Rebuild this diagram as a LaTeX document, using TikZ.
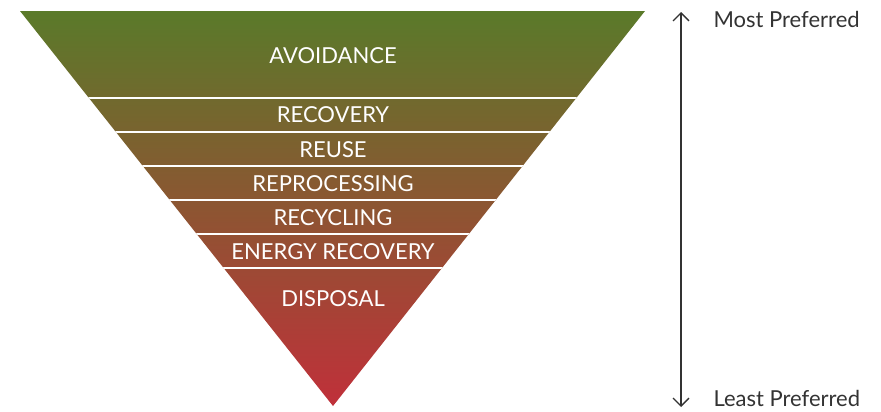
\documentclass[tikz,border=0pt]{standalone}
\usepackage{fontspec}
\setmainfont{Lato}
\usetikzlibrary{arrows.meta}

\definecolor{wasteGreen}{RGB}{90,122,42}
\definecolor{wasteBrown}{RGB}{140,100,50}
\definecolor{wasteRed}{RGB}{192,48,58}
\definecolor{labelGrey}{RGB}{51,51,51}

\tikzset{every picture/.style={line width=0.75pt}}
\tikzset{
  band/.style={inner sep=0.75pt, text=white, font=\fontsize{16.5}{18}\selectfont},
  side/.style={anchor=west, inner sep=0.75pt, text=labelGrey, font=\fontsize{16.5}{18}\selectfont},
  divider/.style={draw=white, line width=1.1pt}
}

\begin{document}
\begin{tikzpicture}[x=0.75pt,y=0.75pt,yscale=-1,xscale=1]
\useasboundingbox (0,0) rectangle (881,411);

%Triangle
\coordinate (tl) at (20,11);
\coordinate (tr) at (645,11);
\coordinate (apex) at (333,406);
\shade [top color=wasteGreen, middle color=wasteBrown, bottom color=wasteRed] (tl) -- (tr) -- (apex) -- cycle;

%Dividers
\begin{scope}
\clip (tl) -- (tr) -- (apex) -- cycle;
\foreach \y in {98,132,166,200,234,268}
  \draw [divider] (0,\y) -- (881,\y);
\end{scope}

% Text Node
\node [band] (avoid) at (333,56) {AVOIDANCE};
\node [band] (recov) at (333,115) {RECOVERY};
\node [band] (reuse) at (333,150) {REUSE};
\node [band] (repro) at (333,184) {REPROCESSING};
\node [band] (recyc) at (333,218) {RECYCLING};
\node [band] (energy) at (333,252) {ENERGY RECOVERY};
\node [band] (disp) at (333,299) {DISPOSAL};

%Arrow
\coordinate (high) at (681,12);
\coordinate (low) at (681,407);
\draw [labelGrey, line width=1pt, {Straight Barb[length=6pt,width=12pt]}-{Straight Barb[length=6pt,width=12pt]}] (high) -- (low);

% Text Node
\node [side] (most) at (712,19) {Most Preferred};
\node [side] (least) at (712,398.5) {Least Preferred};

\end{tikzpicture}
\end{document}
